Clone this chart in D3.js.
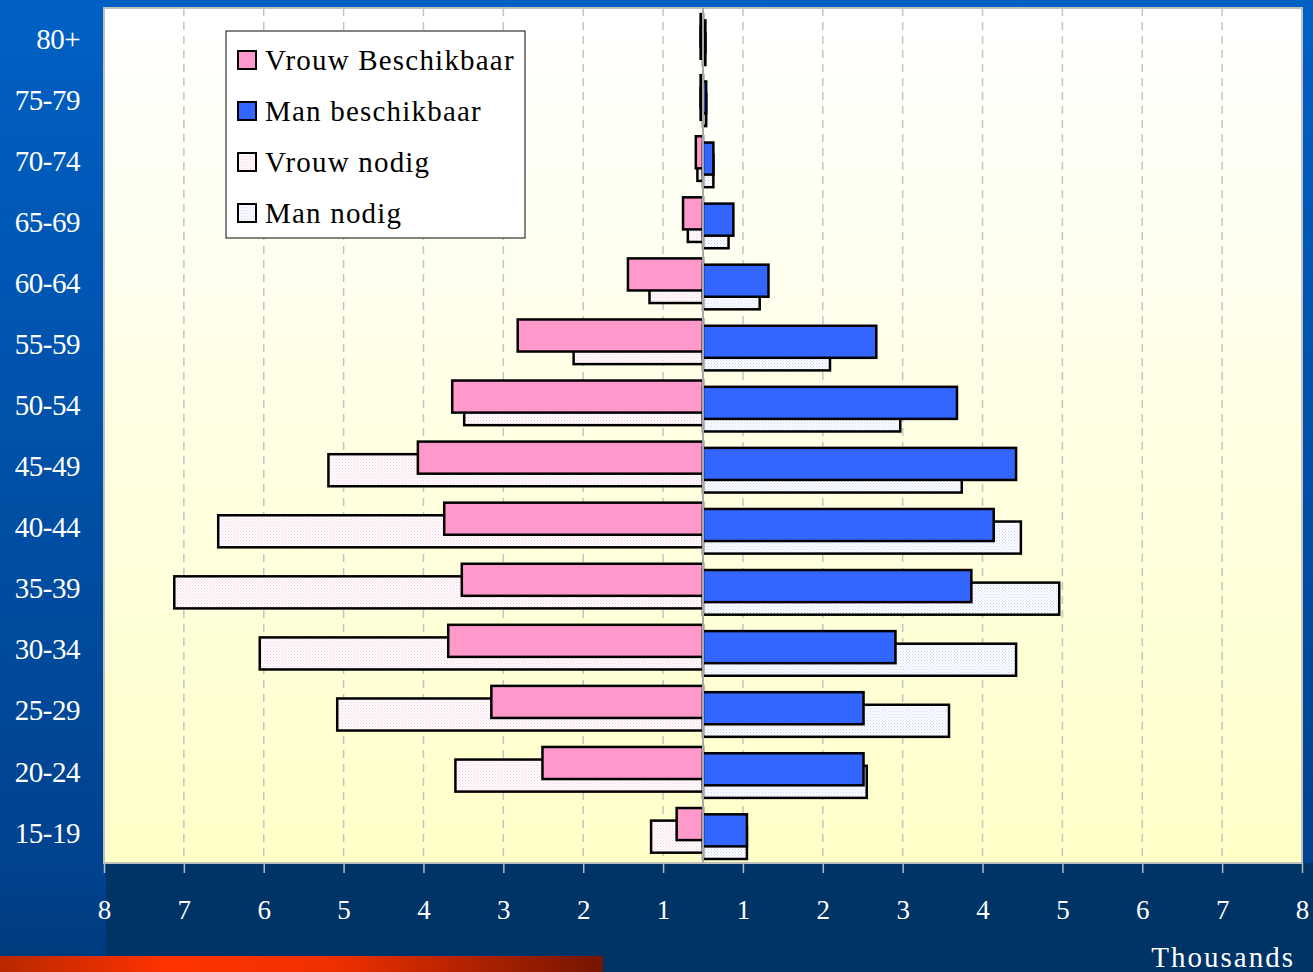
<!DOCTYPE html>
<html>
<head>
<meta charset="utf-8">
<script src="https://cdn.jsdelivr.net/npm/d3@7"></script>
<style>
  html, body { margin: 0; padding: 0; background: #003366; }
  svg { display: block; }
</style>
</head>
<body>
<svg width="1313" height="972"></svg>
<script>
// age groups from top to bottom, values in thousands
var ageGroups = ["80+", "75-79", "70-74", "65-69", "60-64", "55-59", "50-54",
    "45-49", "40-44", "35-39", "30-34", "25-29", "20-24", "15-19"];
var vrouwBeschikbaar = [0.03, 0.03, 0.09, 0.25, 0.94, 2.32, 3.14, 3.57, 3.24, 3.02, 3.19, 2.65, 2.01, 0.33];
var manBeschikbaar = [0.03, 0.04, 0.13, 0.38, 0.82, 2.17, 3.18, 3.92, 3.64, 3.36, 2.41, 2.01, 2.01, 0.55];
var vrouwNodig = [0.03, 0.03, 0.07, 0.19, 0.67, 1.62, 2.99, 4.69, 6.07, 6.62, 5.55, 4.58, 3.10, 0.65];
var manNodig = [0.03, 0.04, 0.13, 0.32, 0.71, 1.59, 2.47, 3.24, 3.98, 4.46, 3.92, 3.08, 2.05, 0.55];
var legendLabels = ["Vrouw Beschikbaar", "Man beschikbaar", "Vrouw nodig", "Man nodig"];
var tickValues = d3.range(-7.5, 8, 1);

var svg = d3.select("svg");
var defs = svg.append("defs");

var bg = defs.append("linearGradient").attr("id", "bgGrad")
    .attr("x1", 0).attr("y1", 0).attr("x2", 0).attr("y2", 1);
bg.append("stop").attr("offset", "0%").attr("stop-color", "#0060c4");
bg.append("stop").attr("offset", "90%").attr("stop-color", "#00428e");
bg.append("stop").attr("offset", "100%").attr("stop-color", "#003a78");

var plotGrad = defs.append("linearGradient").attr("id", "plotGrad")
    .attr("x1", 0).attr("y1", 0).attr("x2", 0).attr("y2", 1);
plotGrad.append("stop").attr("offset", "0%").attr("stop-color", "#ffffff");
plotGrad.append("stop").attr("offset", "100%").attr("stop-color", "#ffffc8");

var redGrad = defs.append("linearGradient").attr("id", "redGrad");
redGrad.append("stop").attr("offset", "0%").attr("stop-color", "#b82800");
redGrad.append("stop").attr("offset", "28%").attr("stop-color", "#ff3300");
redGrad.append("stop").attr("offset", "55%").attr("stop-color", "#f03000");
redGrad.append("stop").attr("offset", "100%").attr("stop-color", "#741500");

function dotPattern(id, dot) {
    var p = defs.append("pattern").attr("id", id)
        .attr("width", 3).attr("height", 3)
        .attr("patternUnits", "userSpaceOnUse");
    p.append("rect").attr("width", 3).attr("height", 3).attr("fill", "#ffffff");
    p.append("rect").attr("width", 1).attr("height", 1).attr("fill", dot);
    p.append("rect").attr("x", 1.5).attr("y", 1.5).attr("width", 1).attr("height", 1).attr("fill", dot);
}
dotPattern("pinkDots", "#f6c8de");
dotPattern("blueDots", "#c8d2f8");

// background
svg.append("rect").attr("width", 1313).attr("height", 972).attr("fill", "url(#bgGrad)");
svg.append("rect").attr("x", 106).attr("y", 863).attr("width", 1207).attr("height", 109).attr("fill", "#003366");
svg.append("rect").attr("x", 0).attr("y", 956).attr("width", 603).attr("height", 16).attr("fill", "url(#redGrad)");

var plotLeft = 104, plotRight = 1302, plotTop = 8, plotBottom = 863;

var x = d3.scaleLinear().domain([-7.5, 7.5]).range([plotLeft, plotRight]);
var y = d3.scaleBand().domain(ageGroups).range([plotTop, plotBottom]).padding(0);
var bw = y.bandwidth();

svg.append("rect").attr("x", plotLeft).attr("y", plotTop)
    .attr("width", plotRight - plotLeft).attr("height", plotBottom - plotTop)
    .attr("fill", "url(#plotGrad)")
    .attr("stroke", "#c0c0c0").attr("stroke-width", 2);

// gridlines
svg.append("g").selectAll("line").data(tickValues.slice(1, -1)).join("line")
    .attr("x1", function(d) { return x(d); })
    .attr("x2", function(d) { return x(d); })
    .attr("y1", plotTop).attr("y2", plotBottom)
    .attr("stroke", "#c4c4c4").attr("stroke-width", 1.5)
    .attr("stroke-dasharray", "8,6");

// bars: nodig behind, beschikbaar in front
var series = [
    { values: vrouwNodig, sign: -1, slot: 2, fill: "url(#pinkDots)" },
    { values: manNodig, sign: 1, slot: 3, fill: "url(#blueDots)" },
    { values: vrouwBeschikbaar, sign: -1, slot: 0, fill: "#ff99cc" },
    { values: manBeschikbaar, sign: 1, slot: 1, fill: "#3366ff" }
];
var barH = bw * 0.525;

series.forEach(function(s) {
    svg.append("g").selectAll("rect").data(s.values).join("rect")
        .attr("x", function(d) { return s.sign < 0 ? x(-d) : x(0); })
        .attr("width", function(d) { return Math.abs(x(d) - x(0)); })
        .attr("y", function(d, i) { return y(ageGroups[i]) + bw * (0.1 + s.slot * 0.103); })
        .attr("height", barH)
        .attr("fill", s.fill)
        .attr("stroke", "#000").attr("stroke-width", 2.5);
});

// zero line
svg.append("line")
    .attr("x1", x(0)).attr("x2", x(0)).attr("y1", plotTop).attr("y2", plotBottom)
    .attr("stroke", "#a8a8a8").attr("stroke-width", 2);

// x axis
var axis = d3.axisBottom(x)
    .tickValues(tickValues)
    .tickFormat(function(d) { return Math.round(Math.abs(d)); })
    .tickSize(10)
    .tickPadding(27);
var gx = svg.append("g").attr("transform", "translate(0," + plotBottom + ")").call(axis);
gx.select(".domain").remove();
gx.selectAll(".tick line").attr("stroke", "#b8b8b8").attr("stroke-width", 1.5);
gx.selectAll(".tick text")
    .attr("fill", "#ffffff")
    .style("font-family", "'Liberation Serif', serif")
    .style("font-size", "27px");

svg.append("text")
    .attr("x", 1295).attr("y", 967)
    .attr("text-anchor", "end")
    .attr("fill", "#ffffff")
    .style("font-family", "'Liberation Serif', serif")
    .style("font-size", "29px")
    .style("letter-spacing", "2px")
    .text("Thousands");

// category labels
svg.append("g").selectAll("text").data(ageGroups).join("text")
    .attr("x", 80)
    .attr("y", function(d) { return y(d) + bw / 2; })
    .attr("dy", "0.35em")
    .attr("text-anchor", "end")
    .attr("fill", "#ffffff")
    .style("font-family", "'Liberation Serif', serif")
    .style("font-size", "29px")
    .style("letter-spacing", "-0.5px")
    .text(function(d) { return d; });

// legend
var legend = svg.append("g").attr("transform", "translate(226,31)");
legend.append("rect").attr("width", 299).attr("height", 207)
    .attr("fill", "#ffffff").attr("stroke", "#333").attr("stroke-width", 1.2);
var legendFills = ["#ff99cc", "#3366ff", "url(#pinkDots)", "url(#blueDots)"];
var items = legend.selectAll("g.item").data(legendLabels).join("g")
    .attr("class", "item")
    .attr("transform", function(d, i) { return "translate(0," + (29 + i * 51) + ")"; });
items.append("rect")
    .attr("x", 12).attr("y", -9).attr("width", 18).attr("height", 18)
    .attr("fill", function(d, i) { return legendFills[i]; })
    .attr("stroke", "#000").attr("stroke-width", 2);
items.append("text")
    .attr("x", 39).attr("dy", "0.35em")
    .attr("fill", "#000")
    .style("font-family", "'Liberation Serif', serif")
    .style("font-size", "29px")
    .style("letter-spacing", "1.2px")
    .text(function(d) { return d; });
</script>
</body>
</html>
